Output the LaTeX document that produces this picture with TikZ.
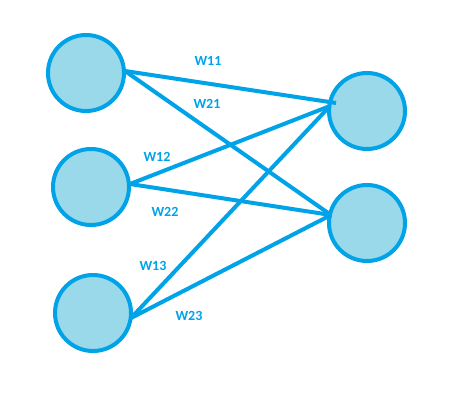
\documentclass[tikz,border=0pt]{standalone}
\usepackage{fontspec}
\setmainfont{Carlito}
\definecolor{pblue}{HTML}{00A2E8}
\definecolor{pfill}{HTML}{99D9EA}
\begin{document}
\begin{tikzpicture}[x=1pt,y=-1pt,
  neuron/.style={circle,draw=pblue,fill=pfill,line width=4pt,minimum size=76pt,inner sep=0pt},
  conn/.style={pblue,line width=4pt},
  wlab/.style={text=pblue,font=\fontsize{14pt}{16pt}\selectfont\bfseries,inner sep=0pt}]
\useasboundingbox (0,0) rectangle (467,412);
\node[neuron] (x1) at (86,73) {};
\node[neuron] (x2) at (91,187) {};
\node[neuron] (x3) at (93,313) {};
\node[neuron] (y1) at (367,111) {};
\node[neuron] (y2) at (367,223) {};
\coordinate (s1) at (125,71);
\coordinate (s2) at (130,184);
\coordinate (s3) at (131,318);
\coordinate (e1a) at (336,103);
\coordinate (e1b) at (330,106);
\coordinate (e2) at (331,215);
\draw[conn] (s1) -- (e1a);
\draw[conn] (s1) -- (e2);
\draw[conn] (s2) -- (e1b);
\draw[conn] (s2) -- (e2);
\draw[conn] (s3) -- (e1b);
\draw[conn] (s3) -- (e2);
\node[wlab] (l11) at (208,61) {W11};
\node[wlab] (l21) at (207,104) {W21};
\node[wlab] (l12) at (157,157) {W12};
\node[wlab] (l22) at (165,212) {W22};
\node[wlab] (l13) at (153,266) {W13};
\node[wlab] (l23) at (189,316) {W23};
\end{tikzpicture}
\end{document}
